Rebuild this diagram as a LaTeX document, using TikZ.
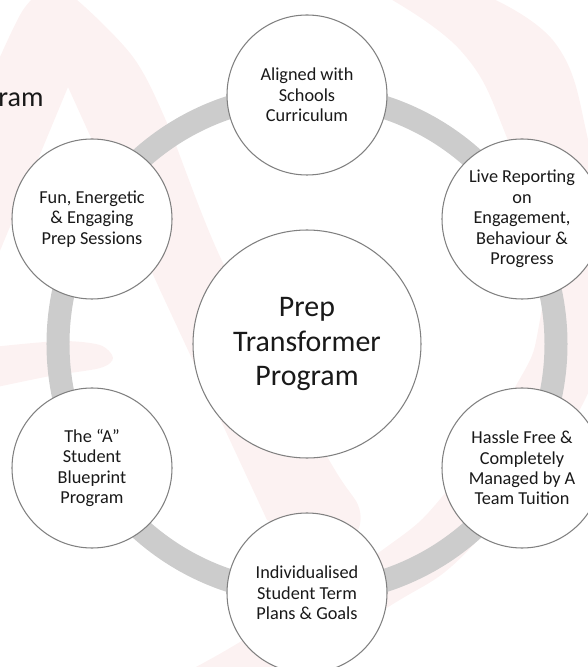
\documentclass[tikz,border=0pt]{standalone}
\usepackage{fontspec}
\setmainfont{Carlito}
\definecolor{logopink}{HTML}{FCF2F2}

\begin{document}
\begin{tikzpicture}[hub/.style={shape=circle, draw=black!50, fill=white, line width=0.6pt, minimum size=4.56cm, inner sep=0pt, align=center, font=\fontsize{17}{19.4}\selectfont, text=black!90},
                    topic/.style={shape=circle, draw=black!50, fill=white, line width=0.6pt, minimum size=3.2cm, inner sep=0pt, align=center, font=\fontsize{10.4}{11.6}\selectfont, text=black!90},
                    ring/.style={draw=black!20, line width=0.46cm},
                    watermark/.style={fill=logopink}]
    \useasboundingbox (-6.14,6.88) rectangle (5.62,-6.46);

    % Watermark logo
    \begin{scope}[shift={(-6.14,6.88)}, x=0.02cm, y=-0.02cm]
        \fill[watermark] plot[smooth, tension=0.5] coordinates {(-8,75) (23,10) (50,-12) (77,0) (133,57) (167,123) (223,263) (328,458) (358,505) (358,530) (340,545)}
            -- (267,520) -- (160,290) -- (68,87) -- (-8,270) -- cycle;
        \fill[watermark] plot[smooth, tension=0.5] coordinates {(-8,347) (60,341) (100,345) (113,358) (100,368) (50,376) (-8,388)} -- cycle;
        \fill[watermark] plot[smooth, tension=0.7] coordinates {(378,-8) (460,50) (505,133) (540,250) (538,330) (515,387) (445,493) (378,553) (243,640) (170,680)}
            -- plot[smooth, tension=0.7] coordinates {(260,680) (388,607) (475,543) (588,393) (605,260) (588,140) (555,43) (478,-8)} -- cycle;
    \end{scope}

    % Ring
    \coordinate (ringcentre) at (0,0);
    \draw[ring] (ringcentre) circle (4.98);

    % Centre
    \node[hub] (prep) at (0,0) {Prep\\Transformer\\Program};

    % Topics
    \node[topic] (aligned) at (0,4.98) {Aligned with\\Schools\\Curriculum};
    \node[topic] (reporting) at (4.30,2.5) {Live Reporting\\on\\Engagement,\\Behaviour \&\\Progress};
    \node[topic] (hassle) at (4.30,-2.48) {Hassle Free \&\\Completely\\Managed by A\\Team Tuition};
    \node[topic] (plans) at (0,-4.98) {Individualised\\Student Term\\Plans \& Goals};
    \node[topic] (blueprint) at (-4.30,-2.48) {The “A”\\Student\\Blueprint\\Program};
    \node[topic] (sessions) at (-4.30,2.5) {Fun, Energetic\\\& Engaging\\Prep Sessions};

    % Cut off title
    \node[anchor=base east, inner sep=0pt, font=\fontsize{16}{19}\selectfont, text=black!90] (title) at (-5.26,4.74) {ram};
\end{tikzpicture}
\end{document}
